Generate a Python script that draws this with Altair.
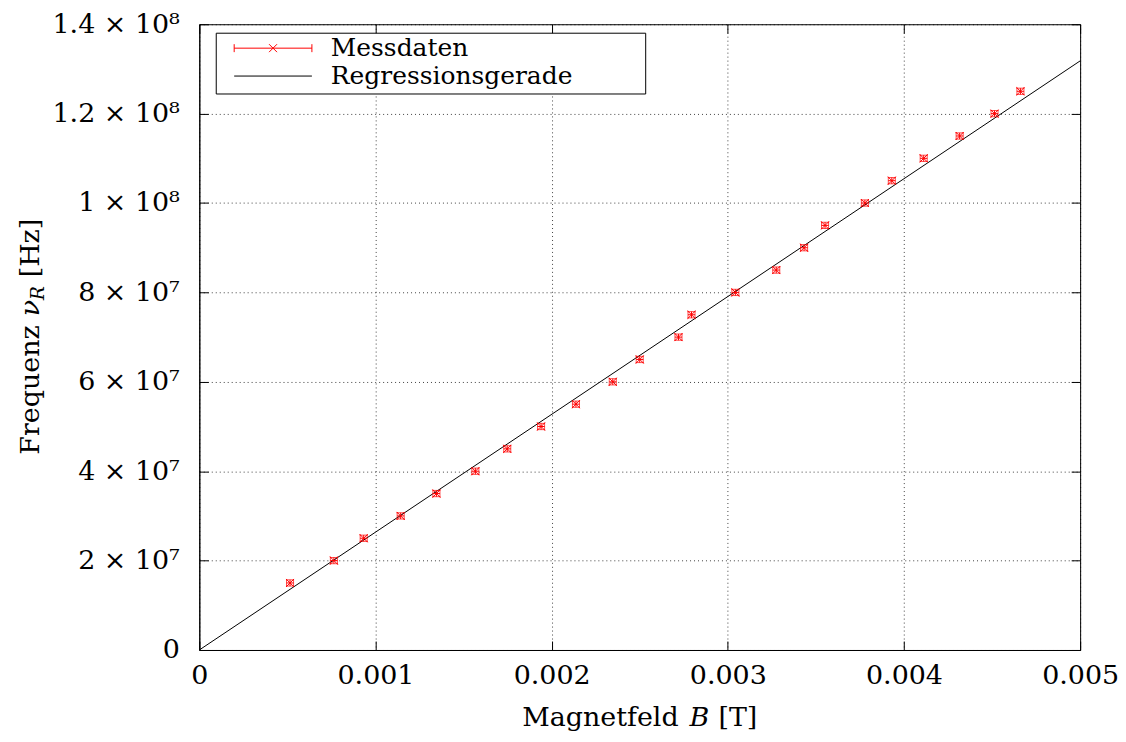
import altair as alt
import pandas as pd

B = [0.000515, 0.000764, 0.000933, 0.001143, 0.001346, 0.001567, 0.001748, 0.00194,
     0.002138, 0.002347, 0.0025, 0.00272, 0.002794, 0.003043, 0.003275, 0.003433,
     0.003552, 0.003778, 0.003931, 0.004112, 0.004316, 0.004514, 0.004661]
nu = [15e6, 20e6, 25e6, 30e6, 35e6, 40e6, 45e6, 50e6, 55e6, 60e6, 65e6, 70e6,
      75e6, 80e6, 85e6, 90e6, 95e6, 100e6, 105e6, 110e6, 115e6, 120e6, 125e6]
x_err = [2e-5] * len(B)
y_err = [7e5] * len(B)

# Regressionsgerade
reg_B = [0.0, 0.005]
reg_nu = [0.0, 1.318e8]

x_ticks = [0, 0.001, 0.002, 0.003, 0.004, 0.005]
y_ticks = [0, 2e7, 4e7, 6e7, 8e7, 1e8, 1.2e8, 1.4e8]
legend_labels = ["Messdaten", "Regressionsgerade"]
x_title_parts = ["Magnetfeld", "B", "[T]"]
y_title_parts = ["Frequenz", "ν", "R", "[Hz]"]

FONT = "DejaVu Serif"
FS = 27
LFS = 25
RED = "#ff0000"
XPATH = "M-1,-1L1,1M-1,1L1,-1"

df = pd.DataFrame({"B": B, "nu": nu, "xe": x_err, "ye": y_err})
reg = pd.DataFrame({"B": reg_B, "nu": reg_nu})

xs = alt.Scale(domain=[0, 0.005], nice=False, zero=False)
ys = alt.Scale(domain=[0, 1.4e8], nice=False)

x_main = alt.Axis(
    values=x_ticks, grid=True, title=None, labelFlush=False,
    labelExpr="datum.value == 0 ? '0' : format(datum.value, '.3f')",
    tickSize={"expr": "-9"}, labelPadding=22,
)
y_main = alt.Axis(
    values=y_ticks, grid=True, title=None,
    labelExpr="datum.value == 0 ? '0' : (datum.value >= 1e8 ? format(datum.value/1e8, '~g') + ' × 10⁸' : format(datum.value/1e7, '~g') + ' × 10⁷')",
    tickSize={"expr": "-9"}, labelPadding=29,
)
x_top = alt.Axis(orient="top", values=x_ticks, grid=False, labels=False, title=None,
                 tickSize={"expr": "-9"}, domain=False)
y_right = alt.Axis(orient="right", values=y_ticks, grid=False, labels=False, title=None,
                   tickSize={"expr": "-9"}, domain=False)

base = alt.Chart(df).transform_calculate(
    Bl="datum.B - datum.xe", Br="datum.B + datum.xe",
    nl="datum.nu - datum.ye", nh="datum.nu + datum.ye",
)

xbar = base.mark_rule(color=RED, strokeWidth=1).encode(
    x=alt.X("Bl:Q", scale=xs, axis=None), x2="Br:Q",
    y=alt.Y("nu:Q", scale=ys, axis=None))
ybar = base.mark_rule(color=RED, strokeWidth=1).encode(
    x=alt.X("B:Q", scale=xs, axis=None),
    y=alt.Y("nl:Q", scale=ys, axis=None), y2="nh:Q")
xcapl = base.mark_tick(color=RED, orient="vertical", size=8, thickness=1).encode(
    x=alt.X("Bl:Q", scale=xs, axis=None), y=alt.Y("nu:Q", scale=ys, axis=None))
xcapr = base.mark_tick(color=RED, orient="vertical", size=8, thickness=1).encode(
    x=alt.X("Br:Q", scale=xs, axis=None), y=alt.Y("nu:Q", scale=ys, axis=None))
ycapl = base.mark_tick(color=RED, orient="horizontal", size=8, thickness=1).encode(
    x=alt.X("B:Q", scale=xs, axis=None), y=alt.Y("nl:Q", scale=ys, axis=None))
ycaph = base.mark_tick(color=RED, orient="horizontal", size=8, thickness=1).encode(
    x=alt.X("B:Q", scale=xs, axis=None), y=alt.Y("nh:Q", scale=ys, axis=None))
pts = alt.Chart(df).mark_point(shape=XPATH, size=64, filled=False, color=RED, strokeWidth=1, opacity=1).encode(
    x=alt.X("B:Q", scale=xs, axis=x_main),
    y=alt.Y("nu:Q", scale=ys, axis=y_main))

line = alt.Chart(reg).mark_line(color="black", strokeWidth=1, clip=True).encode(
    x=alt.X("B:Q", scale=xs, axis=x_top),
    y=alt.Y("nu:Q", scale=ys, axis=y_right))

one = pd.DataFrame({"a": [0]})


def txt(s, x, y, angle=0, size=FS, style="normal", align="left", baseline="alphabetic"):
    kw = dict(align=align, baseline=baseline, font=FONT, fontSize=size,
              fontStyle=style, color="black")
    if angle:
        kw["angle"] = angle
    return alt.Chart(pd.DataFrame({"t": [s]})).mark_text(**kw).encode(
        text="t:N", x=alt.value(x), y=alt.value(y))


lg_box = alt.Chart(one).mark_rect(fill="white", stroke="black", strokeWidth=1).encode(
    x=alt.value(17), x2=alt.value(448), y=alt.value(9), y2=alt.value(70))
lg_r = alt.Chart(one).mark_rule(color=RED, strokeWidth=1).encode(
    x=alt.value(35), x2=alt.value(113), y=alt.value(24))
lg_c1 = alt.Chart(one).mark_rule(color=RED, strokeWidth=1).encode(
    x=alt.value(35), y=alt.value(20), y2=alt.value(28))
lg_c2 = alt.Chart(one).mark_rule(color=RED, strokeWidth=1).encode(
    x=alt.value(113), y=alt.value(20), y2=alt.value(28))
lg_x = alt.Chart(one).mark_point(shape=XPATH, size=64, filled=False, color=RED, strokeWidth=1, opacity=1).encode(
    x=alt.value(74), y=alt.value(24))
lg_l = alt.Chart(one).mark_rule(color="black", strokeWidth=1).encode(
    x=alt.value(35), x2=alt.value(113), y=alt.value(52))
lg_t1 = txt(legend_labels[0], 132, 24, size=LFS, baseline="middle")
lg_t2 = txt(legend_labels[1], 132, 52, size=LFS, baseline="middle")

# axis titles (with italic symbol and subscript)
xt1 = txt(x_title_parts[0], 324, 704)
xt2 = txt(x_title_parts[1], 492, 704, style="italic")
xt3 = txt(x_title_parts[2], 521, 704)

yt1 = txt(y_title_parts[0], -161, 432, angle=270)
yt2 = txt(y_title_parts[1], -161, 293, angle=270, style="italic")
yt3 = txt(y_title_parts[2], -156, 277, angle=270, size=19, style="italic")
yt4 = txt(y_title_parts[3], -161, 254, angle=270)

chart = alt.layer(
    pts, line, xbar, ybar, xcapl, xcapr, ycapl, ycaph,
    lg_box, lg_r, lg_c1, lg_c2, lg_x, lg_l, lg_t1, lg_t2,
    xt1, xt2, xt3, yt1, yt2, yt3, yt4,
).resolve_axis(x="independent", y="independent").properties(
    width=884, height=628,
    autosize=alt.AutoSizeParams(type="none"),
    padding={"left": 192, "top": 15, "right": 38, "bottom": 80},
).configure_view(
    stroke="black", strokeWidth=1,
).configure_axis(
    labelFont=FONT, labelFontSize=FS, labelColor="black",
    domainColor="black", domainWidth=1, tickColor="black", tickWidth=1,
    gridColor="black", gridOpacity=0.75, gridDash=[1, 3], gridWidth=1,
)

chart.save("out.html", embed_options={"renderer": "svg", "actions": False})
